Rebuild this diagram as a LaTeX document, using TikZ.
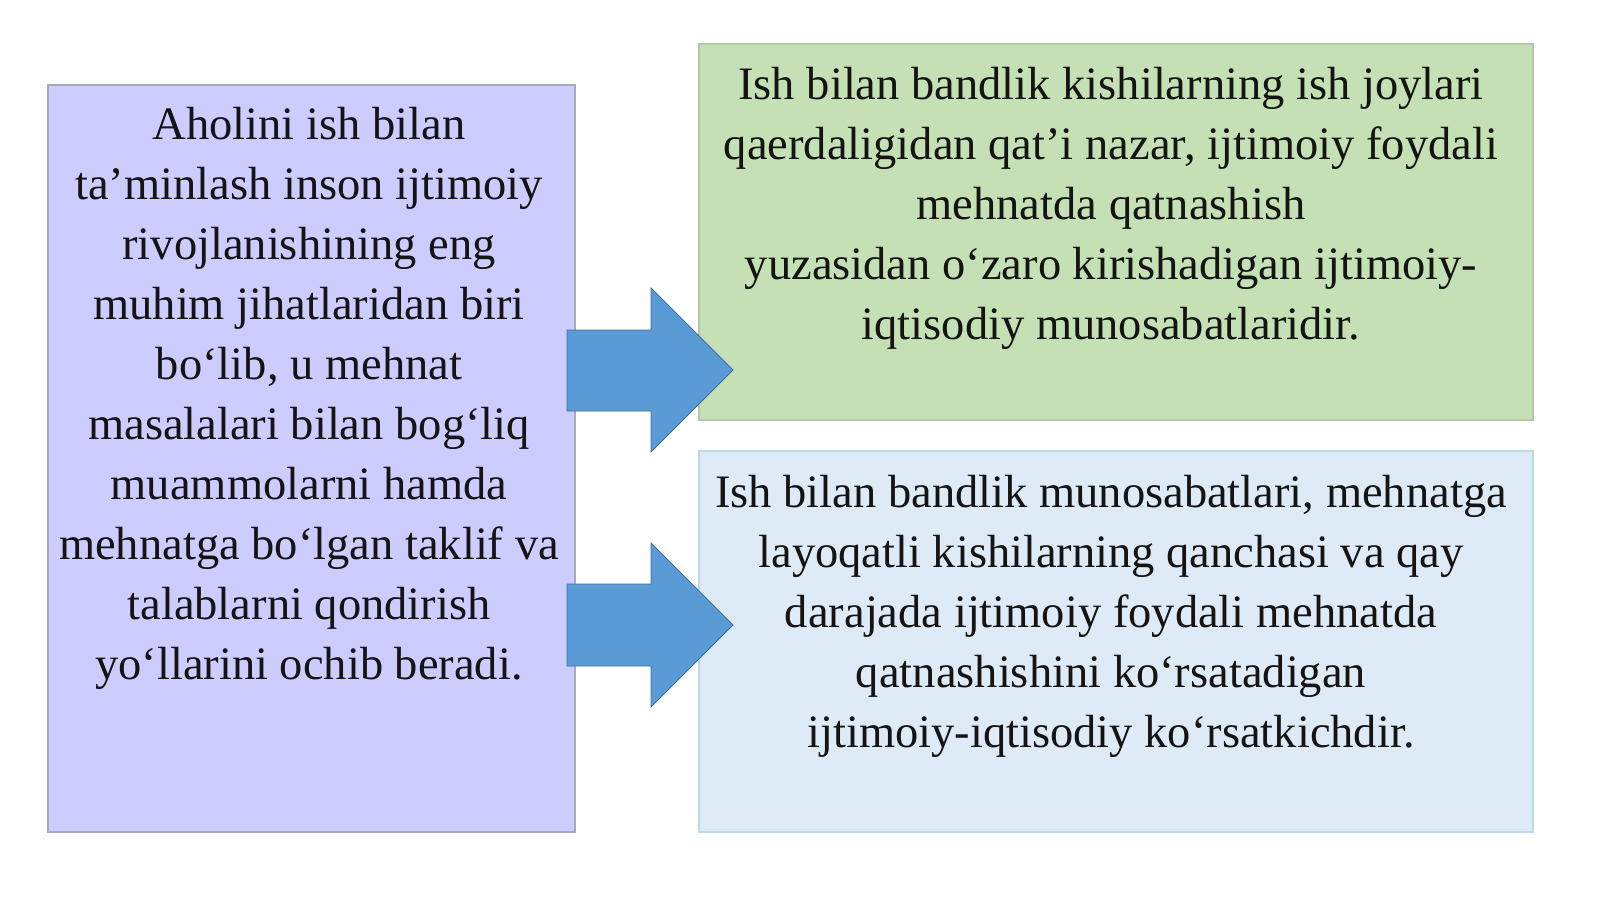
\documentclass[tikz,border=0pt]{standalone}
\usepackage{fontspec}
\setmainfont{Liberation Serif}
\definecolor{lavfill}{HTML}{CCCCFF}
\definecolor{lavedge}{HTML}{A8A8C0}
\definecolor{grnfill}{HTML}{C5E0B4}
\definecolor{grnedge}{HTML}{B4C8A8}
\definecolor{bluefill}{HTML}{DEEBF7}
\definecolor{bluedge}{HTML}{B8DCE4}
\definecolor{arrfill}{HTML}{5B9BD5}
\definecolor{arredge}{HTML}{41719C}
\tikzset{
  panel/.style={line width=0.6pt},
  bodytext/.style={align=center, anchor=base, inner sep=0pt, font=\fontsize{23.25pt}{30pt}\selectfont, text=black!92},
  fatarrow/.style={fill=arrfill, draw=arredge, line width=0.4pt, line join=miter}
}
\begin{document}
\begin{tikzpicture}[x=0.5pt,y=-0.5pt]
\useasboundingbox (0,0) rectangle (1600,899);
% boxes
\draw[panel, fill=lavfill, draw=lavedge] (48,85) rectangle (575,832);
\draw[panel, fill=grnfill, draw=grnedge] (699,44) rectangle (1533,420);
\draw[panel, fill=bluefill, draw=bluedge] (699,451) rectangle (1533,832);
% texts (anchor base = baseline of the last line)
\node[bodytext] (lefttext) at (309,679) {Aholini ish bilan\\ta’minlash inson ijtimoiy\\rivojlanishining eng\\muhim jihatlaridan biri\\bo‘lib, u mehnat\\masalalari bilan bog‘liq\\muammolarni hamda\\mehnatga bo‘lgan taklif va\\talablarni qondirish\\yo‘llarini ochib beradi.};
\node[bodytext] (greentext) at (1111,339) {Ish bilan bandlik kishilarning ish joylari\\qaerdaligidan qat’i nazar, ijtimoiy foydali\\mehnatda qatnashish\\yuzasidan o‘zaro kirishadigan ijtimoiy-\\iqtisodiy munosabatlaridir.};
\node[bodytext] (bluetext) at (1111,747) {Ish bilan bandlik munosabatlari, mehnatga\\layoqatli kishilarning qanchasi va qay\\darajada ijtimoiy foydali mehnatda\\qatnashishini ko‘rsatadigan\\ijtimoiy-iqtisodiy ko‘rsatkichdir.};
% arrows
\draw[fatarrow] (567,330) -- (651,330) -- (651,288) -- (733,370) -- (651,452) -- (651,411) -- (567,411) -- cycle;
\draw[fatarrow] (567,584) -- (651,584) -- (651,543) -- (733,625) -- (651,707) -- (651,666) -- (567,666) -- cycle;
\end{tikzpicture}
\end{document}
